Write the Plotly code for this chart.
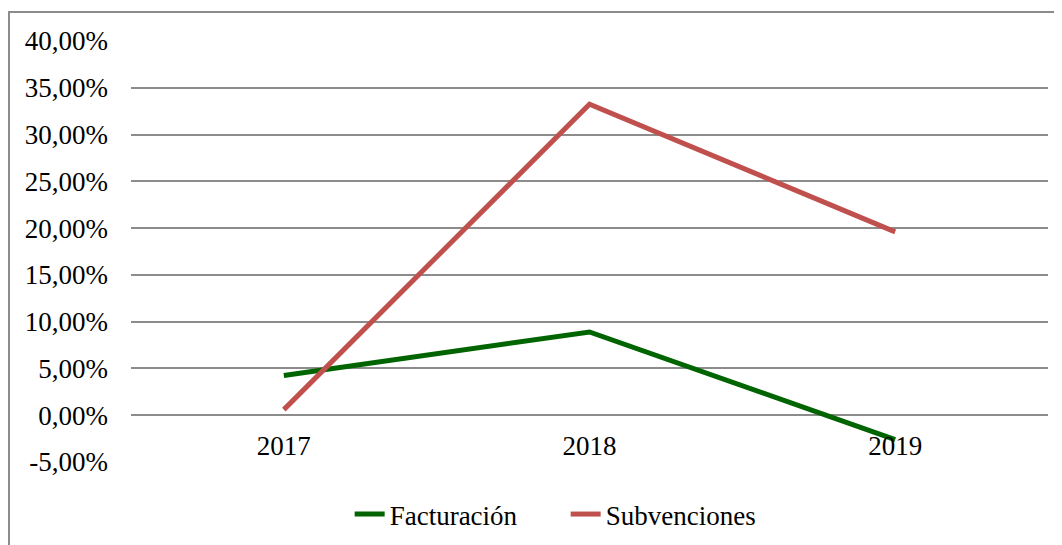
import plotly.graph_objects as go

years = ["2017", "2018", "2019"]
facturacion = [4.25, 8.9, -2.6]
subvenciones = [0.6, 33.25, 19.6]
y_ticks = [-5, 0, 5, 10, 15, 20, 25, 30, 35, 40]
y_labels = [f"{v:.2f}%".replace(".", ",") for v in y_ticks]

font = dict(family="Liberation Serif, Times New Roman, serif", size=27, color="black")

fig = go.Figure()
fig.add_trace(go.Scatter(x=years, y=facturacion, mode="lines", name="Facturación",
                         line=dict(color="#006400", width=5)))
fig.add_trace(go.Scatter(x=years, y=subvenciones, mode="lines", name="Subvenciones",
                         line=dict(color="#C0504D", width=5)))

# page body has an 8px margin, so the figure is a bit smaller than the window
fig.update_layout(
    width=1054, height=537,
    margin=dict(l=123, r=14, t=33, b=83, autoexpand=False),
    paper_bgcolor="white", plot_bgcolor="white",
    font=font,
    showlegend=True,
    legend=dict(orientation="h", x=0.474, xanchor="center", y=-0.0665, yanchor="top",
                font=font, entrywidth=171, entrywidthmode="pixels"),
    xaxis=dict(type="category", range=[-0.5, 2.5], showgrid=False, showline=False,
               zeroline=False, anchor="free", position=5 / 45, ticks="",
               ticklabelstandoff=12, tickfont=font),
    yaxis=dict(range=[-5, 40], tickvals=y_ticks, ticktext=y_labels,
               showgrid=True, gridcolor="#8c8c8c", gridwidth=2, zeroline=False,
               showline=False, ticks="", ticklabelstandoff=22, tickfont=font),
    shapes=[dict(type="rect", xref="paper", yref="paper",
                 x0=(1 - 123) / 917, x1=1.1, y0=-0.3, y1=1 + 29 / 421,
                 line=dict(color="#8c8c8c", width=2), layer="below")],
)

fig.write_html("out.html")
